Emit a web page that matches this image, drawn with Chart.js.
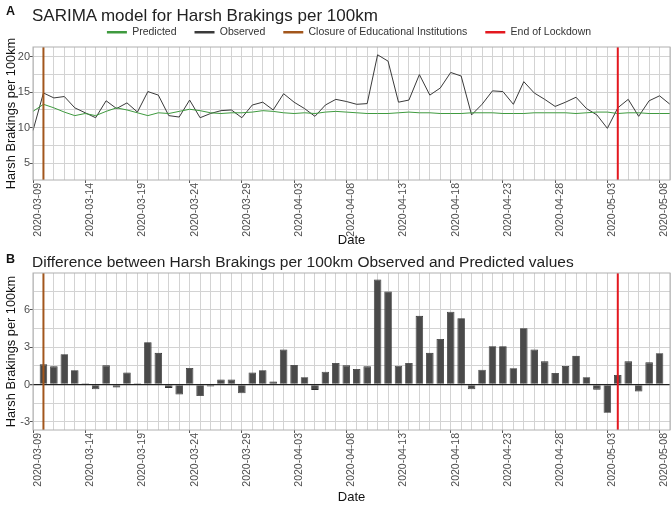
<!DOCTYPE html>
<html>
<head>
<meta charset="utf-8">
<script src="https://cdn.jsdelivr.net/npm/chart.js@4.4.0/dist/chart.umd.min.js"></script>
<style>
  body { margin: 0; background: #fff; font-family: "Liberation Sans", Arial, sans-serif; }
  #wrap { position: relative; width: 672px; height: 505px; overflow: hidden; }
  .tag { position: absolute; font-weight: bold; font-size: 12.5px; color: #111; z-index: 2; }
  .title { position: absolute; color: #222; white-space: nowrap; z-index: 2; }
  canvas { position: absolute; left: 0; }
</style>
</head>
<body>
<div id="wrap">
  <canvas id="chartA" width="672" height="250" style="top:0px"></canvas>
  <canvas id="chartB" width="672" height="255" style="top:250px"></canvas>
  <div class="tag" style="left:6px;top:4px">A</div>
  <div class="title" style="left:32px;top:6px;font-size:17px">SARIMA model for Harsh Brakings per 100km</div>
  <div class="tag" style="left:6px;top:252px">B</div>
  <div class="title" style="left:32px;top:253px;font-size:15.5px">Difference between Harsh Brakings per 100km Observed and Predicted values</div>
</div>
<script>
// Daily values, 2020-03-09 .. 2020-05-09
let observed = [9.6, 14.9, 14.2, 14.4, 12.8, 12.1, 11.4, 13.8, 12.7, 13.5,
  12.2, 15.1, 14.6, 11.7, 11.5, 13.9, 11.4, 12.0, 12.4, 12.5,
  11.4, 13.2, 13.6, 12.5, 14.8, 13.6, 12.7, 11.6, 13.2, 14.0,
  13.7, 13.3, 13.4, 20.3, 19.4, 13.6, 13.9, 17.5, 14.6, 15.6,
  17.8, 17.3, 11.8, 13.3, 15.2, 15.1, 13.3, 16.5, 14.9, 14.0,
  13.0, 13.6, 14.3, 12.7, 11.8, 9.9, 12.8, 14.0, 11.6, 13.8,
  14.5, 13.3];

let predicted = [12.3, 13.3, 12.8, 12.2, 11.7, 12.0, 11.7, 12.3, 12.8, 12.5,
  12.1, 11.7, 12.1, 12.0, 12.3, 12.6, 12.4, 12.1, 12.0, 12.1,
  12.1, 12.2, 12.4, 12.3, 12.1, 12.0, 12.1, 12.0, 12.2, 12.3,
  12.2, 12.1, 12.0, 12.0, 12.0, 12.1, 12.2, 12.1, 12.1, 12.0,
  12.0, 12.0, 12.1, 12.1, 12.1, 12.0, 12.0, 12.0, 12.1, 12.1,
  12.1, 12.1, 12.0, 12.1, 12.2, 12.2, 12.0, 12.1, 12.1, 12.0,
  12.0, 12.0];

// Observed minus predicted (no bar on first and last day)
let difference = [null, 1.62, 1.46, 2.43, 1.14, 0.11, -0.38, 1.54, -0.24, 0.97,
  0.11, 3.4, 2.54, -0.27, -0.81, 1.32, -0.92, -0.16, 0.41, 0.41,
  -0.7, 0.97, 1.14, 0.24, 2.81, 1.57, 0.59, -0.43, 1.03, 1.73,
  1.54, 1.24, 1.46, 8.43, 7.46, 1.51, 1.73, 5.51, 2.54, 3.65,
  5.84, 5.32, -0.38, 1.19, 3.08, 3.08, 1.3, 4.51, 2.81, 1.86,
  0.92, 1.49, 2.3, 0.59, -0.41, -2.27, 0.76, 1.86, -0.57, 1.78,
  2.51, null];

let eventDates = ["2020-03-10", "2020-05-04"];
let eventLabels = ["Closure of Educational Institutions", "End of Lockdown"];
let eventColors = ["#a2561c", "#e3181f"];

// y gridlines (labelled: yLabelsA / yLabelsB)
let yTicksA = [5, 7.5, 10, 12.5, 15, 17.5, 20];
let yLabelsA = [5, 10, 15, 20];
let yTicksB = [-3, -1.5, 0, 1.5, 3, 4.5, 6, 7.5];
let yLabelsB = [-3, 0, 3, 6];

// date labels
let dates = [];
for (let i = 0; i < observed.length; i++) {
  let d = new Date(Date.UTC(2020, 2, 9 + i));
  dates.push(d.toISOString().slice(0, 10));
}

const GRID = "#d3d3d3";
const TICK = "#4d4d4d";

// vertical event lines + panel frame
const eventLines = {
  id: "eventLines",
  afterDatasetsDraw(chart) {
    const { ctx, chartArea, scales } = chart;
    ctx.save();
    eventDates.forEach((d, i) => {
      let px = scales.x.getPixelForValue(dates.indexOf(d));
      ctx.strokeStyle = eventColors[i];
      ctx.lineWidth = 2;
      ctx.beginPath();
      ctx.moveTo(px, chartArea.top);
      ctx.lineTo(px, chartArea.bottom);
      ctx.stroke();
    });
    ctx.strokeStyle = "#b0b0b0";
    ctx.lineWidth = 1;
    ctx.strokeRect(chartArea.left, chartArea.top, chartArea.right - chartArea.left, chartArea.bottom - chartArea.top);
    ctx.restore();
  }
};

// fixed legend height, nudged to sit over the plot centre
const legendFit = {
  id: "legendFit",
  beforeInit(chart) {
    const lg = chart.legend;
    const fit = lg.fit;
    lg.fit = function () { fit.call(this); this.height = 38; };
  },
  afterLayout(chart) {
    chart.legend.left += 14;
    chart.legend.right += 14;
  }
};

function xScale(h, padBottom) {
  return {
    type: "category",
    offset: false,
    grid: { color: GRID, offset: false, tickLength: 3,
      tickColor: c => (c.index % 5 === 0 ? "#555" : "rgba(0,0,0,0)") },
    border: { display: false },
    ticks: {
      autoSkip: false, maxRotation: 90, minRotation: 90, padding: 0, labelOffset: 5,
      color: TICK, font: { size: 10.5 },
      callback(v, i) { return i % 5 === 0 ? this.getLabelForValue(v) : ""; }
    },
    title: { display: true, text: "Date", color: "#111", font: { size: 13 }, padding: { top: 2, bottom: padBottom } },
    afterFit: s => { s.height = h; s.paddingLeft = 0; s.paddingRight = 0; }
  };
}

function yScale(min, max, tickList, labelList) {
  const labelled = v => labelList.includes(v);
  return {
    min: min, max: max,
    afterBuildTicks: s => { s.ticks = tickList.map(v => ({ value: v })); },
    grid: {
      color: c => (c.tick.value === 0 ? "#222" : GRID),
      lineWidth: c => (c.tick.value === 0 ? 1.3 : 1),
      tickLength: 3,
      tickColor: c => (labelled(c.tick.value) ? "#555" : "rgba(0,0,0,0)")
    },
    border: { display: false },
    ticks: { padding: 0, color: TICK, font: { size: 11 },
      callback: v => (labelled(v) ? v : "") },
    title: { display: true, text: "Harsh Brakings per 100km", color: "#111", font: { size: 12.8 }, padding: { top: 4, bottom: 0 } },
    afterFit: s => { s.width = 33; s.paddingTop = 0; s.paddingBottom = 0; }
  };
}

Chart.defaults.font.family = "'Liberation Sans', Arial, sans-serif";

// Panel A
new Chart(document.getElementById("chartA"), {
  type: "line",
  data: {
    labels: dates,
    datasets: [
      { label: "Predicted", data: predicted, borderColor: "#3f9a3f", backgroundColor: "#3f9a3f", borderWidth: 1, pointRadius: 0 },
      { label: "Observed", data: observed, borderColor: "#3a3a3a", backgroundColor: "#3a3a3a", borderWidth: 1, pointRadius: 0 },
      { label: eventLabels[0], data: [], borderColor: eventColors[0], backgroundColor: eventColors[0] },
      { label: eventLabels[1], data: [], borderColor: eventColors[1], backgroundColor: eventColors[1] }
    ]
  },
  options: {
    responsive: false,
    animation: false,
    layout: { autoPadding: false, padding: { left: 0, right: 2, top: 9, bottom: 0 } },
    plugins: {
      tooltip: { enabled: false },
      legend: {
        position: "top",
        labels: {
          usePointStyle: true, pointStyle: "line", pointStyleWidth: 20, boxHeight: 10,
          padding: 18, color: "#333", font: { size: 10.5 },
          generateLabels(chart) {
            return Chart.defaults.plugins.legend.labels.generateLabels(chart)
              .map(l => Object.assign(l, { lineWidth: 2.5 }));
          }
        }
      }
    },
    scales: {
      x: xScale(70, 2),
      y: yScale(2.6, 21.4, yTicksA, yLabelsA)
    }
  },
  plugins: [eventLines, legendFit]
});

// Panel B
new Chart(document.getElementById("chartB"), {
  type: "bar",
  data: {
    labels: dates,
    datasets: [
      { label: "Difference", data: difference, backgroundColor: "#4a4a4a", borderColor: "#2e2e2e", borderWidth: 0.8,
        barPercentage: 0.72, categoryPercentage: 1 }
    ]
  },
  options: {
    responsive: false,
    animation: false,
    layout: { autoPadding: false, padding: { left: 0, right: 2, top: 23, bottom: 0 } },
    plugins: { legend: { display: false }, tooltip: { enabled: false } },
    scales: {
      x: xScale(75, 0),
      y: yScale(-3.65, 8.95, yTicksB, yLabelsB)
    }
  },
  plugins: [eventLines]
});
</script>
</body>
</html>
